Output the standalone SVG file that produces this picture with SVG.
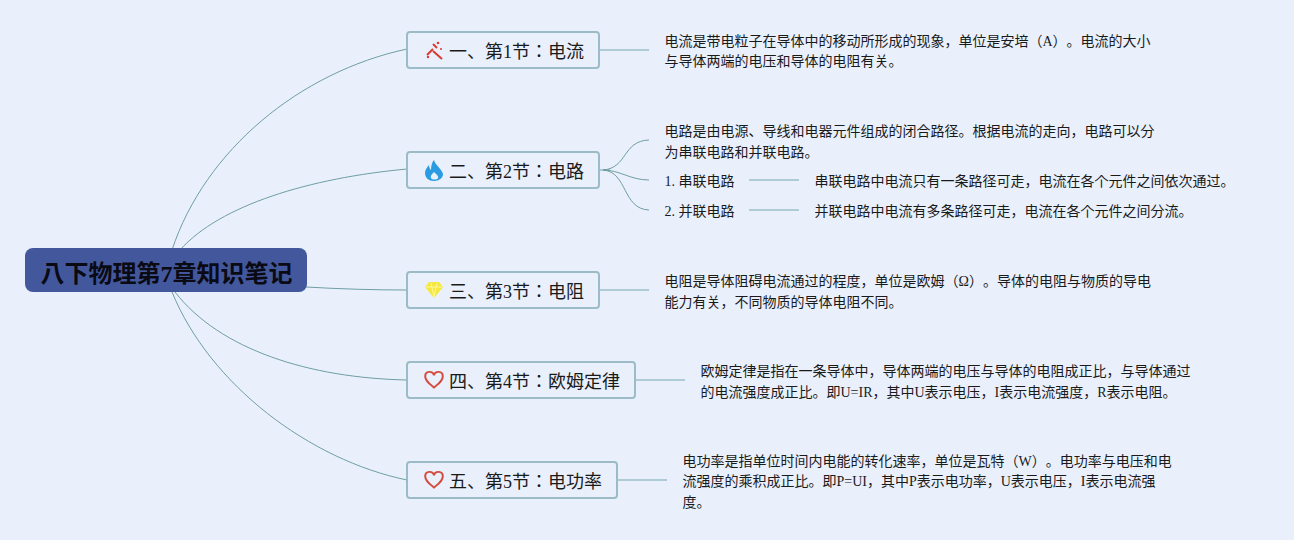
<svg xmlns="http://www.w3.org/2000/svg" width="1294" height="540" viewBox="0 0 1294 540">
<style>
text{font-family:"Liberation Serif","Noto Sans CJK JP",serif;fill:#1a1a1a;text-spacing-trim:space-all}
.box{fill:#e9f0fc;stroke:#9bbcc6;stroke-width:2}
.t{font-size:18px}
.d{font-size:14px}
.c{fill:none;stroke:#6f9ea3;stroke-width:1}
.s{fill:none;stroke:#9bbfc8;stroke-width:1.6}
</style>
<rect width="1294" height="540" fill="#e9f0fc"/>
<g id="connectors">
<path class="c" d="M172 250C205 150 300 72 407 49"/>
<path class="c" d="M180 250C220 205 310 178 407 169"/>
<path class="c" d="M306 287C340 289 375 290 407 290"/>
<path class="c" d="M175 292C220 350 310 378 407 380"/>
<path class="c" d="M172 292C210 385 310 460 407 480"/>
<path class="s" d="M599 50H649"/>
<path class="s" d="M599 290H649"/>
<path class="s" d="M635 380H685"/>
<path class="s" d="M617 480H667"/>
<path class="s" d="M749 180H799"/>
<path class="s" d="M749 210H799"/>
<path class="s" d="M599 170H610"/>
<path class="c" d="M603 170C628 168 622 141 649 140"/>
<path class="c" d="M603 170C620 170 630 180 649 180"/>
<path class="c" d="M603 170C628 172 622 209 649 210"/>
</g>
<g id="root">
<rect x="25" y="248" width="282" height="44" rx="8" fill="#43589c"/>
<text x="40.5" y="282" style="font-size:24px;font-weight:700;fill:#0a0a14">八下物理第7章知识笔记</text>
</g>
<g id="n1">
<rect class="box" x="407" y="32" width="192" height="36" rx="3"/>
<g stroke="#d9392f" fill="#d9392f"><path d="M433 51L442 59" stroke-width="2"/><path d="M433 44L437 48" stroke-width="2"/><path d="M427 55L433 49" stroke-width="2"/><circle cx="438" cy="43" r="1.3" stroke="none"/><circle cx="441" cy="49" r="1" stroke="none"/><circle cx="428" cy="57" r="1.2" stroke="none"/></g>
<text class="t" x="449" y="58">一、第1节：电流</text>
</g>
<g id="n2">
<rect class="box" x="407" y="152" width="192" height="36" rx="3"/>
<path fill="#2a9be0" fill-rule="evenodd" d="M434 160C435 165 442 169 443 174C443 178 439 181 434 181C429 181 425 178 425 173C425 170 427 167 429 165C429 168 430 169 431 170C431 166 432 162 434 160ZM434 172C432 174 430 176 431 178C432 180 437 180 438 178C439 176 436 174 434 172Z"/>
<text class="t" x="449" y="178">二、第2节：电路</text>
</g>
<g id="n3">
<rect class="box" x="407" y="272" width="192" height="36" rx="3"/>
<path fill="#f5e83a" d="M429 282H439L443 287L434 298L425 287Z"/>
<path fill="none" stroke="#fff79a" stroke-width="1" d="M426 287H442M431 283L434 297L437 283"/>
<text class="t" x="449" y="298">三、第3节：电阻</text>
</g>
<g id="n4">
<rect class="box" x="407" y="362" width="228" height="36" rx="3"/>
<path fill="none" stroke="#d64a3e" stroke-width="1.8" d="M434 388C430 384 426 381 426 376C426 370 433 370 434 375C435 370 442 370 442 376C442 381 438 384 434 388Z" transform="translate(434 380) scale(1.1 .95) translate(-434 -380)"/>
<text class="t" x="449" y="388">四、第4节：欧姆定律</text>
</g>
<g id="n5">
<rect class="box" x="407" y="462" width="210" height="36" rx="3"/>
<path fill="none" stroke="#d64a3e" stroke-width="1.8" d="M434 488C430 484 426 481 426 476C426 470 433 470 434 475C435 470 442 470 442 476C442 481 438 484 434 488Z" transform="translate(434 480) scale(1.1 .95) translate(-434 -480)"/>
<text class="t" x="449" y="488">五、第5节：电功率</text>
</g>
<g id="d1">
<text class="d" x="664.5" y="46">电流是带电粒子在导体中的移动所形成的现象，单位是安培（A）。电流的大小</text>
<text class="d" x="664.5" y="66">与导体两端的电压和导体的电阻有关。</text>
</g>
<g id="d2">
<text class="d" x="664.5" y="135.5">电路是由电源、导线和电器元件组成的闭合路径。根据电流的走向，电路可以分</text>
<text class="d" x="664.5" y="156.5">为串联电路和并联电路。</text>
</g>
<g id="s1"><text class="d" x="664.5" y="186">1. 串联电路</text></g>
<g id="s1d"><text class="d" x="814.5" y="186">串联电路中电流只有一条路径可走，电流在各个元件之间依次通过。</text></g>
<g id="s2"><text class="d" x="664.5" y="216">2. 并联电路</text></g>
<g id="s2d"><text class="d" x="814.5" y="216">并联电路中电流有多条路径可走，电流在各个元件之间分流。</text></g>
<g id="d3">
<text class="d" x="664.5" y="286">电阻是导体阻碍电流通过的程度，单位是欧姆（Ω）。导体的电阻与物质的导电</text>
<text class="d" x="664.5" y="306.5">能力有关，不同物质的导体电阻不同。</text>
</g>
<g id="d4">
<text class="d" x="700.5" y="376">欧姆定律是指在一条导体中，导体两端的电压与导体的电阻成正比，与导体通过</text>
<text class="d" x="700.5" y="396.5">的电流强度成正比。即U=IR，其中U表示电压，I表示电流强度，R表示电阻。</text>
</g>
<g id="d5">
<text class="d" x="682.5" y="466">电功率是指单位时间内电能的转化速率，单位是瓦特（W）。电功率与电压和电</text>
<text class="d" x="682.5" y="486">流强度的乘积成正比。即P=UI，其中P表示电功率，U表示电压，I表示电流强</text>
<text class="d" x="682.5" y="506.5">度。</text>
</g>
</svg>
